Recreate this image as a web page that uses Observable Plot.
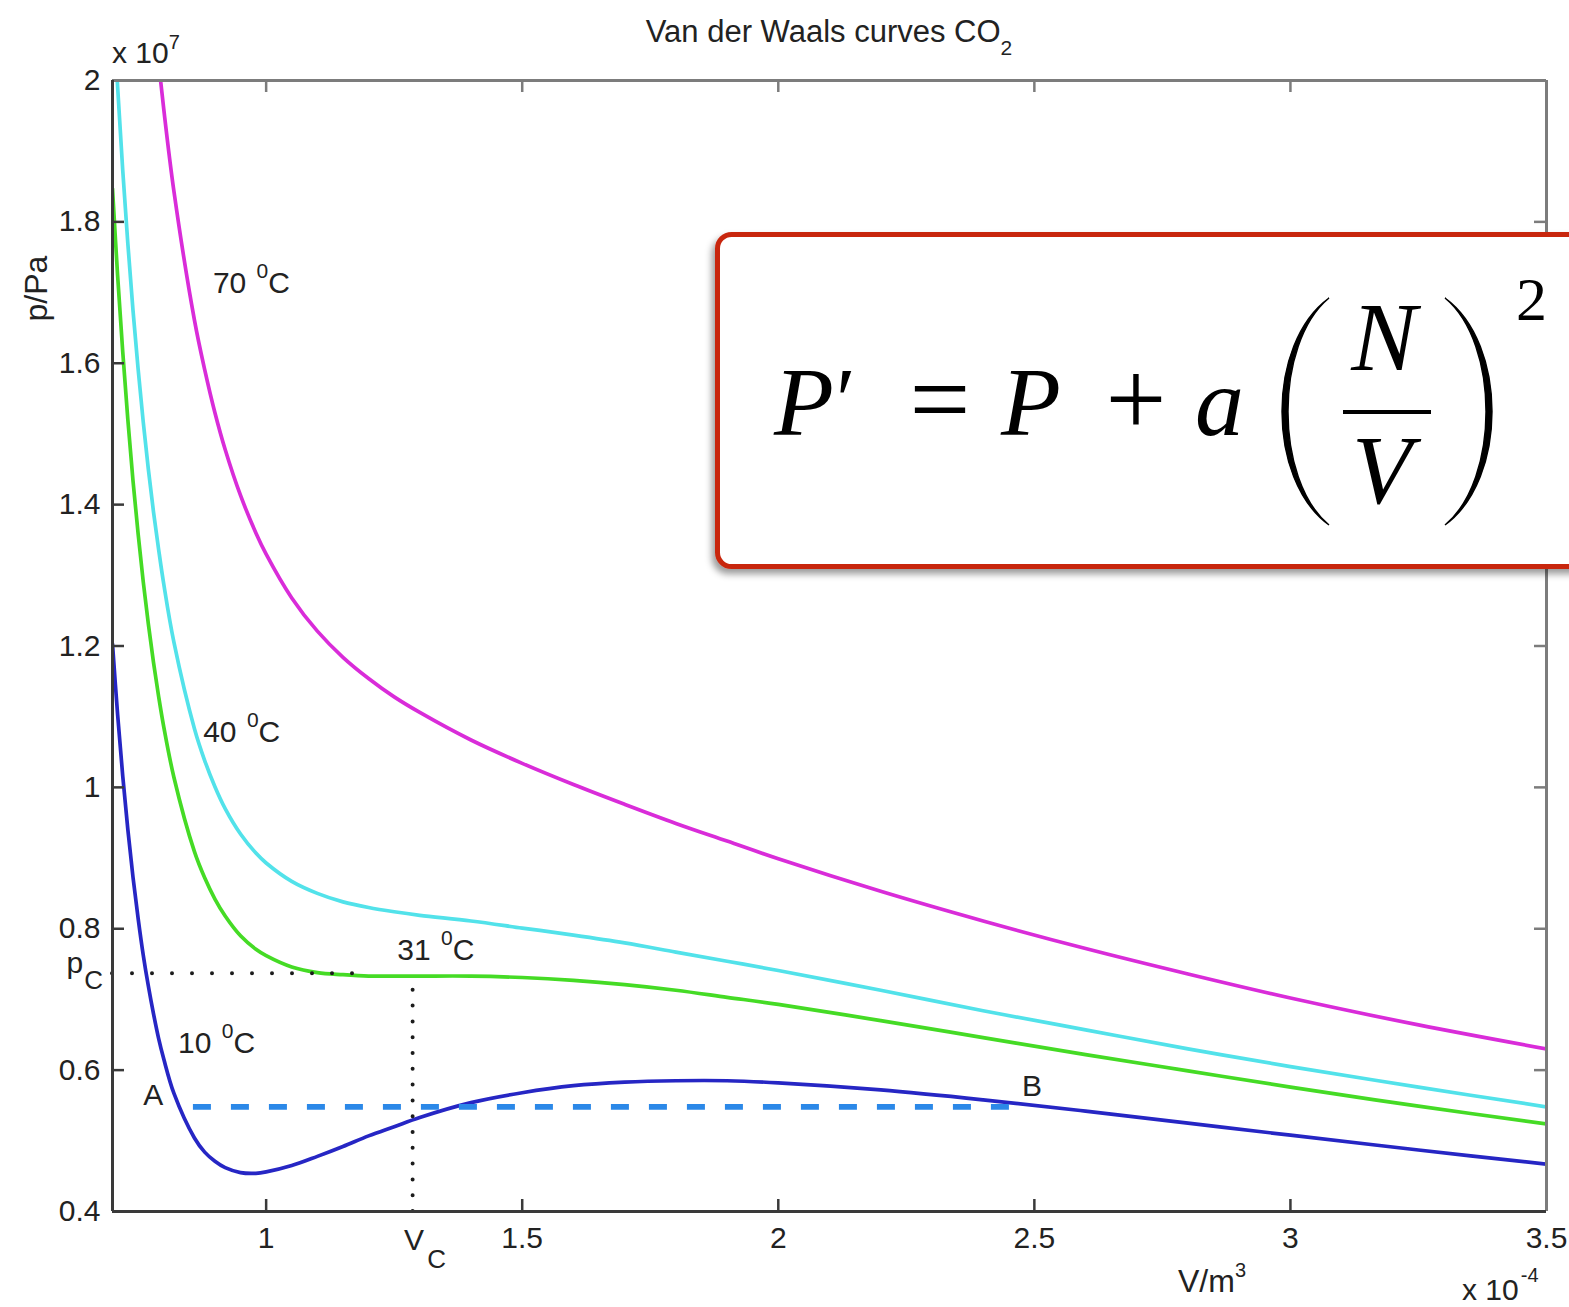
<!DOCTYPE html>
<html>
<head>
<meta charset="utf-8">
<script src="https://cdn.jsdelivr.net/npm/d3@7"></script>
<script src="https://cdn.jsdelivr.net/npm/@observablehq/plot@0.6"></script>
<style>
  html, body { margin: 0; padding: 0; background: #fff; overflow: hidden; }
  #chart svg { display: block; }
</style>
</head>
<body>
<div id="chart"></div>
<script>
// Molar volume samples (×10⁻⁴ m³) shared by every isotherm
const volume = [0.70, 0.71, 0.72, 0.73, 0.74, 0.75, 0.76, 0.77, 0.78, 0.79, 0.80, 0.82, 0.86,
                0.88, 0.90, 0.92, 0.95, 0.98, 1.00, 1.05, 1.10, 1.15, 1.20, 1.25, 1.30, 1.40,
                1.50, 1.60, 1.70, 1.80, 1.90, 2.00, 2.20, 2.40, 2.60, 2.80, 3.00, 3.25, 3.50];

// Pressure (×10⁷ Pa) of each isotherm at those volumes
const p10C = [1.203, 1.103, 1.016, 0.940, 0.873, 0.815, 0.763, 0.719, 0.680, 0.645, 0.616, 0.567, 0.504,
              0.484, 0.471, 0.462, 0.455, 0.454, 0.456, 0.465, 0.478, 0.492, 0.507, 0.520, 0.533, 0.554,
              0.568, 0.578, 0.583, 0.585, 0.585, 0.582, 0.572, 0.558, 0.542, 0.525, 0.508, 0.487, 0.467];
const p31C = [1.847, 1.724, 1.616, 1.520, 1.434, 1.359, 1.291, 1.231, 1.177, 1.129, 1.086, 1.014, 0.909,
              0.872, 0.842, 0.818, 0.790, 0.771, 0.762, 0.746, 0.738, 0.735, 0.733, 0.733, 0.733, 0.733,
              0.731, 0.727, 0.721, 0.713, 0.703, 0.693, 0.670, 0.646, 0.622, 0.599, 0.576, 0.549, 0.524];
const p40C = [2.123, 1.991, 1.873, 1.769, 1.675, 1.592, 1.517, 1.450, 1.390, 1.337, 1.288, 1.205, 1.083,
              1.038, 1.001, 0.970, 0.934, 0.907, 0.893, 0.867, 0.850, 0.838, 0.830, 0.824, 0.819, 0.811,
              0.801, 0.791, 0.780, 0.767, 0.754, 0.741, 0.713, 0.684, 0.657, 0.630, 0.605, 0.576, 0.548];
const p70C = [3.044, 2.879, 2.730, 2.597, 2.477, 2.369, 2.271, 2.182, 2.101, 2.027, 1.960, 1.843, 1.661,
              1.591, 1.530, 1.478, 1.413, 1.360, 1.330, 1.268, 1.221, 1.184, 1.154, 1.128, 1.106, 1.067,
              1.034, 1.004, 0.976, 0.949, 0.924, 0.899, 0.853, 0.811, 0.772, 0.736, 0.702, 0.664, 0.630];

// Maxwell tie line A–B on the 10 °C isotherm
const tieVolume = [0.858, 2.473];
const tiePressure = [0.548];

// Critical point and the extent of its dotted guides
const criticalVolume = [1.286];
const criticalPressure = [0.737];
const pcGuideEnd = [1.17];
const vcGuideTop = [0.72];

// Axis ticks
const xTickValues = [1, 1.5, 2, 2.5, 3, 3.5];
const yTickValues = [0.4, 0.6, 0.8, 1, 1.2, 1.4, 1.6, 1.8, 2];
const xInnerTicks = [1, 1.5, 2, 2.5, 3];
const yInnerTicks = [0.6, 0.8, 1, 1.2, 1.4, 1.6, 1.8];

// Isotherm labels (temperature in °C, anchor at text start / baseline)
const curveLabelTemp = ["70", "40", "31", "10"];
const curveLabelV = [0.897, 0.878, 1.257, 0.829];
const curveLabelP = [1.698, 1.063, 0.755, 0.624];

// Point labels on the tie line
const pointLabelText = ["A", "B"];
const pointLabelV = [0.761, 2.477];
const pointLabelP = [0.550, 0.562];

// ---------------------------------------------------------------------------
const W = 1569, H = 1307;
const M = {top: 80, right: 23, bottom: 96, left: 112};
const frameW = W - M.left - M.right;
const frameH = H - M.top - M.bottom;
const tickLen = 12;
const sans = "'Liberation Sans', Arial, Helvetica, sans-serif";
const serif = "'Liberation Serif', 'Times New Roman', serif";
const axisDark = "#3a3a3a";
const axisLight = "#7c7c7c";
const ink = "#222";

const isotherms = [
  {values: p70C, color: "#d92cd9"},
  {values: p40C, color: "#52e2ea"},
  {values: p31C, color: "#45db25"},
  {values: p10C, color: "#2626c4"}
];

const plot = Plot.plot({
  width: W,
  height: H,
  marginTop: M.top,
  marginRight: M.right,
  marginBottom: M.bottom,
  marginLeft: M.left,
  x: {domain: [0.7, 3.5]},
  y: {domain: [0.4, 2]},
  style: {
    fontFamily: sans,
    fontSize: "30px",
    color: ink,
    background: "white",
    overflow: "hidden"
  },
  marks: [
    // isotherms
    ...isotherms.map(s => Plot.lineY(s.values, {
      x: volume,
      stroke: s.color,
      strokeWidth: 3.7,
      curve: "catmull-rom",
      clip: true
    })),
    // dashed tie line
    Plot.ruleY(tiePressure, {
      x1: tieVolume[0], x2: tieVolume[1],
      stroke: "#2b88e8", strokeWidth: 5.8, strokeDasharray: "18 20"
    }),
    // dotted critical-point guides
    Plot.ruleY(criticalPressure, {
      x1: 0.7, x2: pcGuideEnd[0],
      stroke: "#1c1c1c", strokeWidth: 4, strokeDasharray: "0 20", strokeLinecap: "round"
    }),
    Plot.ruleX(criticalVolume, {
      y1: 0.4, y2: vcGuideTop[0],
      stroke: "#1c1c1c", strokeWidth: 4, strokeDasharray: "0 15.8", strokeLinecap: "round"
    }),
    // box frame
    Plot.ruleY([2], {stroke: axisLight, strokeWidth: 3}),
    Plot.ruleX([3.5], {stroke: axisLight, strokeWidth: 3}),
    Plot.ruleY([0.4], {stroke: axisDark, strokeWidth: 3}),
    Plot.ruleX([0.7], {stroke: axisDark, strokeWidth: 3}),
    // inward ticks on all four sides
    Plot.tickX(xInnerTicks, {insetTop: frameH - tickLen, stroke: axisDark, strokeWidth: 2.5}),
    Plot.tickX(xInnerTicks, {insetBottom: frameH - tickLen, stroke: axisLight, strokeWidth: 2.5}),
    Plot.tickY(yInnerTicks, {insetRight: frameW - tickLen, stroke: axisDark, strokeWidth: 2.5}),
    Plot.tickY(yInnerTicks, {insetLeft: frameW - tickLen, stroke: axisLight, strokeWidth: 2.5}),
    // tick labels
    Plot.axisX(xTickValues, {tickSize: 0, tickPadding: 15, tickFormat: d => `${d}`, label: null, fontSize: 30}),
    Plot.axisY(yTickValues, {tickSize: 0, tickPadding: 12, tickFormat: d => `${d}`, label: null, fontSize: 30})
  ]
});

document.getElementById("chart").appendChild(plot);

// ---------------------------------------------------------------------------
// Annotations with super/subscripts, positioned through the plot's scales
const svg = d3.select(plot);
const sx = plot.scale("x"), sy = plot.scale("y");
const px = v => sx.apply(v), py = p => sy.apply(p);
const fLeft = px(0.7), fRight = px(3.5), fTop = py(2), fBottom = py(0.4);

const notes = svg.append("g").attr("fill", ink).attr("font-family", sans).attr("font-size", 30);

function rich(x, y, parts, anchor = "start", size = 30) {
  const t = notes.append("text")
    .attr("x", x).attr("y", y)
    .attr("text-anchor", anchor)
    .attr("font-size", size);
  parts.forEach(p => {
    const s = t.append("tspan").text(p.t);
    if (p.size) s.attr("font-size", p.size);
    if (p.dy) s.attr("dy", p.dy);
    if (p.dx) s.attr("dx", p.dx);
  });
  return t;
}

// title
rich((fLeft + fRight) / 2, fTop - 38, [
  {t: "Van der Waals curves CO"},
  {t: "2", size: 21, dy: 13}
], "middle", 31);

// axis exponents
rich(fLeft, fTop - 17, [{t: "x 10"}, {t: "7", size: 20, dy: -14}]);
rich(fRight - 84, H - 7, [{t: "x 10"}, {t: "-4", size: 20, dy: -18, dx: 2}]);

// axis titles
rich(fRight - 368, fBottom + 81, [{t: "V/m"}, {t: "3", size: 20, dy: -15}], "start", 32);
notes.append("text")
  .attr("transform", `translate(${fLeft - 65},${py(1.705)}) rotate(-90)`)
  .attr("text-anchor", "middle")
  .attr("font-size", 32)
  .text("p/Pa");

// critical labels
rich(fLeft - 9, py(criticalPressure[0]), [
  {t: "p"},
  {t: "C", size: 26, dy: 16, dx: 1}
], "end");
rich(px(criticalVolume[0]) - 8, fBottom + 39, [
  {t: "V"},
  {t: "C", size: 26, dy: 18, dx: 3}
]);

// isotherm labels
curveLabelTemp.forEach((temp, i) => {
  rich(px(curveLabelV[i]), py(curveLabelP[i]), [
    {t: temp + " "},
    {t: "0", size: 21, dy: -15, dx: 2},
    {t: "C", dy: 15}
  ]);
});

// tie-line end labels
pointLabelText.forEach((s, i) => {
  rich(px(pointLabelV[i]), py(pointLabelP[i]), [{t: s}]);
});

// ---------------------------------------------------------------------------
// Equation card: P' = P + a (N/V)^2
const defs = svg.append("defs");
const f = defs.append("filter").attr("id", "cardShadow")
  .attr("x", "-5%").attr("y", "-10%").attr("width", "115%").attr("height", "130%");
f.append("feDropShadow").attr("dx", -3).attr("dy", 5).attr("stdDeviation", 3.5)
  .attr("flood-color", "#000").attr("flood-opacity", 0.4);

const card = svg.append("g");
card.append("rect")
  .attr("x", 717.5).attr("y", 234.5)
  .attr("width", 900).attr("height", 332)
  .attr("rx", 14).attr("ry", 14)
  .attr("fill", "white")
  .attr("stroke", "#c8270f")
  .attr("stroke-width", 5)
  .attr("filter", "url(#cardShadow)");

const eq = card.append("g").attr("fill", "#000").attr("font-family", serif);
const eqBase = 435;
function glyph(x, y, s, {italic = true, size = 98, anchor = "start"} = {}) {
  return eq.append("text")
    .attr("x", x).attr("y", y)
    .attr("font-size", size)
    .attr("font-style", italic ? "italic" : "normal")
    .attr("text-anchor", anchor)
    .text(s);
}
glyph(774, eqBase, "P");
glyph(836, eqBase - 4, "′", {italic: false, size: 90});
glyph(940, eqBase, "=", {italic: false, anchor: "middle", size: 108});
glyph(1001, eqBase, "P");
glyph(1136, eqBase, "+", {italic: false, anchor: "middle", size: 108});
glyph(1195, eqBase, "a");
glyph(1384, 370, "N", {anchor: "middle"});
glyph(1382, 503, "V", {anchor: "middle"});
glyph(1516, 320, "2", {italic: false, size: 62});

// fraction bar
eq.append("line")
  .attr("x1", 1343).attr("x2", 1431)
  .attr("y1", 412).attr("y2", 412)
  .attr("stroke", "#000").attr("stroke-width", 4);

// tall parentheses drawn as crescents
function paren(tipX, bulgeX, y0, y1, thick) {
  const dir = Math.sign(tipX - bulgeX);
  const cOut = (bulgeX - 0.25 * tipX) / 0.75;
  const cIn = (bulgeX + dir * thick - 0.25 * tipX) / 0.75;
  const h = y1 - y0;
  const ya = y0 + h * 0.2, yb = y1 - h * 0.2;
  eq.append("path")
    .attr("d", `M${tipX},${y0} C${cOut},${ya} ${cOut},${yb} ${tipX},${y1} C${cIn},${yb} ${cIn},${ya} ${tipX},${y0} Z`)
    .attr("fill", "#000").attr("stroke", "#000").attr("stroke-width", 1.4);
}
paren(1329, 1282, 298, 525, 6);
paren(1445, 1492, 298, 525, 6);
</script>
</body>
</html>
